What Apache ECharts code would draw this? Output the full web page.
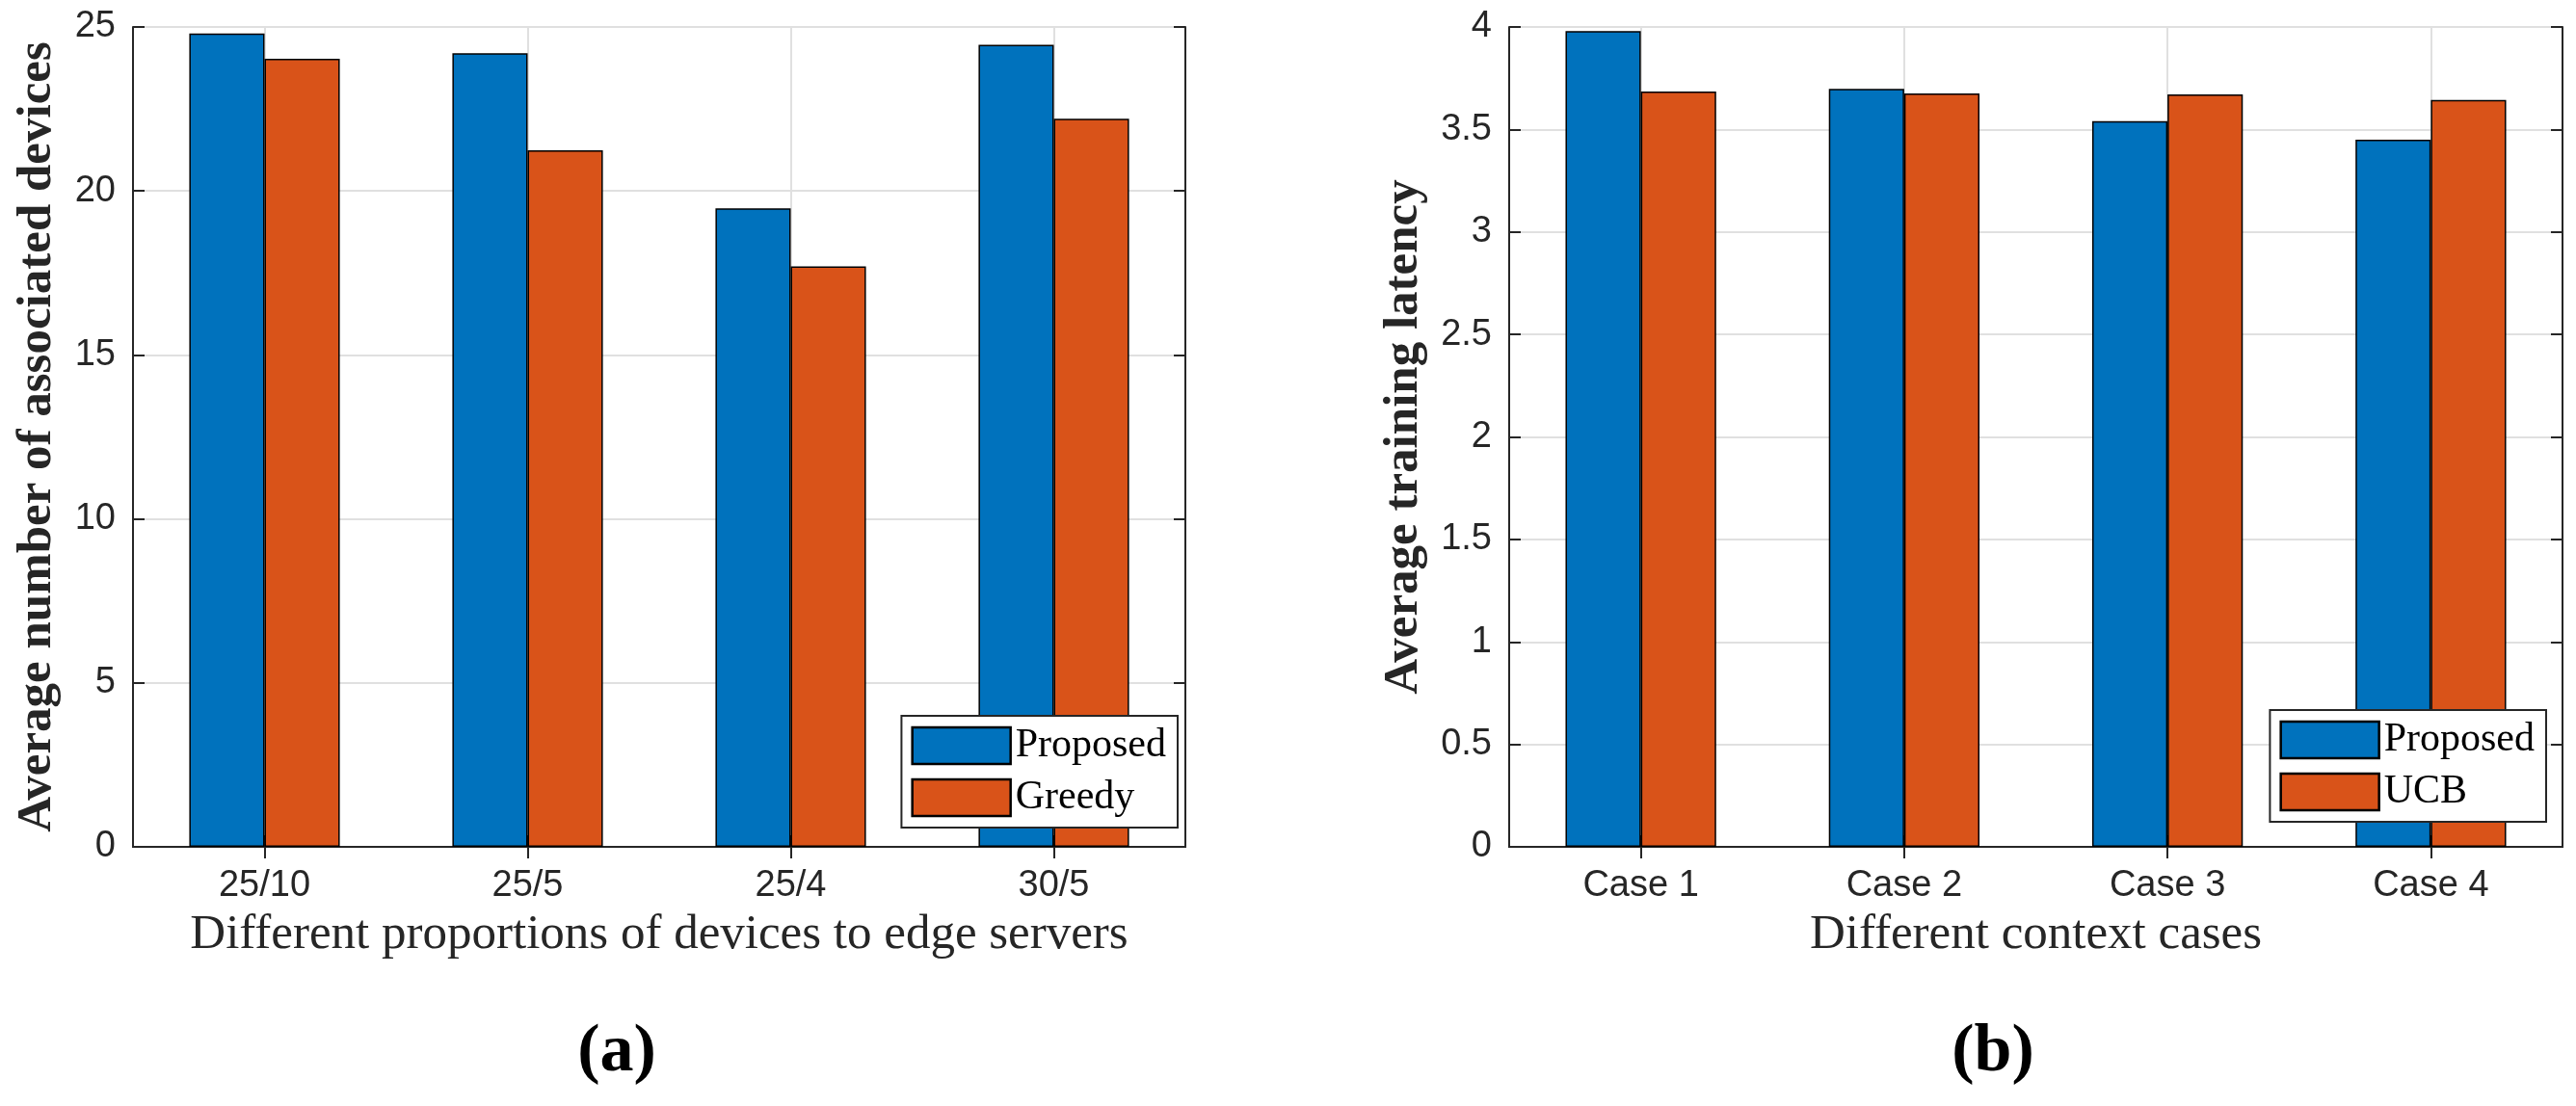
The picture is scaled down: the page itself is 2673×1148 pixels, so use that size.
<!DOCTYPE html>
<html>
<head>
<meta charset="utf-8">
<script src="https://cdn.jsdelivr.net/npm/echarts@6/dist/echarts.min.js"></script>
<style>
  html, body { margin: 0; padding: 0; background: #fff; }
  #chart { width: 2673px; height: 1148px; }
</style>
</head>
<body>
<div id="chart"></div>
<script>
// (a) associated devices
var ratioCats = ['25/10', '25/5', '25/4', '30/5'];
var proposedDevices = [24.8, 24.2, 19.47, 24.46];
var greedyDevices = [24.03, 21.24, 17.7, 22.2];
// (b) training latency
var caseCats = ['Case 1', 'Case 2', 'Case 3', 'Case 4'];
var proposedLatency = [3.98, 3.698, 3.54, 3.45];
var ucbLatency = [3.685, 3.676, 3.671, 3.644];

var blue = '#0072BD', orange = '#D95319', axisCol = '#262626';
var tickFont = { fontFamily: 'Liberation Sans', fontSize: 38, color: axisCol };
var titleFont = { fontFamily: 'Liberation Serif', fontSize: 51, color: axisCol };

// bottom category axis with labels + title, top one only mirrors ticks
function catAxis(grid, cats, name, top) {
    return {
        type: 'category', gridIndex: grid, data: cats,
        position: top ? 'top' : 'bottom',
        axisLine: { show: true, lineStyle: { color: axisCol, width: 2 } },
        axisTick: { show: true, inside: true, alignWithLabel: true, length: 12, lineStyle: { color: axisCol, width: 2 } },
        axisLabel: { show: !top, margin: 22, fontFamily: tickFont.fontFamily, fontSize: tickFont.fontSize, color: tickFont.color },
        splitLine: { show: !top, alignWithLabel: true, lineStyle: { color: '#e0e0e0', width: 2 } },
        name: top ? '' : name, nameLocation: 'middle', nameGap: 66,
        nameTextStyle: titleFont
    };
}
function valAxis(grid, max, step, name, gap, right) {
    return {
        type: 'value', gridIndex: grid, min: 0, max: max, interval: step,
        position: right ? 'right' : 'left',
        axisLine: { show: true, lineStyle: { color: axisCol, width: 2 } },
        axisTick: { show: true, inside: true, length: 12, lineStyle: { color: axisCol, width: 2 } },
        axisLabel: { show: !right, margin: 18, fontFamily: tickFont.fontFamily, fontSize: tickFont.fontSize, color: tickFont.color },
        splitLine: { show: !right, lineStyle: { color: '#e0e0e0', width: 2 } },
        name: right ? '' : name, nameLocation: 'middle', nameGap: gap, nameRotate: 90,
        nameTextStyle: { fontFamily: 'Liberation Serif', fontSize: 51, fontWeight: 'bold', color: axisCol }
    };
}
function bars(name, data, color, xi, yi) {
    return {
        type: 'bar', name: name, data: data, xAxisIndex: xi, yAxisIndex: yi,
        barWidth: '28.6%', barGap: '0%',
        itemStyle: { color: color, borderColor: '#000', borderWidth: 1.5 }
    };
}
function legendBox(names, right, bottom) {
    return {
        data: names, orient: 'vertical', right: right, bottom: bottom,
        selectedMode: false, icon: 'rect',
        itemWidth: 102, itemHeight: 38, itemGap: 12,
        padding: [10, 12, 10, 10],
        backgroundColor: '#fff', borderColor: axisCol, borderWidth: 2, borderRadius: 0,
        itemStyle: { borderColor: '#000', borderWidth: 2.5 },
        textStyle: { fontFamily: 'Liberation Serif', fontSize: 42, color: '#000' }
    };
}
function panelTag(text, x) {
    return {
        type: 'text', x: x, y: 1093,
        style: { text: text, fontFamily: 'Liberation Serif', fontWeight: 'bold', fontSize: 70, fill: '#000', align: 'center', verticalAlign: 'middle' }
    };
}

var chart = echarts.init(document.getElementById('chart'));
chart.setOption({
    animation: false,
    backgroundColor: '#fff',
    grid: [
        { left: 138, right: 1443, top: 28, bottom: 269 },
        { left: 1566, right: 14, top: 28, bottom: 269 }
    ],
    xAxis: [
        catAxis(0, ratioCats, 'Different proportions of devices to edge servers', false),
        catAxis(0, ratioCats, '', true),
        catAxis(1, caseCats, 'Different context cases', false),
        catAxis(1, caseCats, '', true)
    ],
    yAxis: [
        valAxis(0, 25, 5, 'Average number of associated devices', 74, false),
        valAxis(0, 25, 5, '', 0, true),
        valAxis(1, 4, 0.5, 'Average training latency', 84, false),
        valAxis(1, 4, 0.5, '', 0, true)
    ],
    legend: [
        legendBox(['Proposed', 'Greedy'], 1451, 289),
        legendBox(['Proposed', 'UCB'], 31, 295)
    ],
    series: [
        bars('Proposed', proposedDevices, blue, 0, 0),
        bars('Greedy', greedyDevices, orange, 0, 0),
        bars('Proposed', proposedLatency, blue, 2, 2),
        bars('UCB', ucbLatency, orange, 2, 2)
    ],
    graphic: [
        panelTag('(a)', 640),
        panelTag('(b)', 2068)
    ]
});
window.onresize = chart.resize;
</script>
</body>
</html>
